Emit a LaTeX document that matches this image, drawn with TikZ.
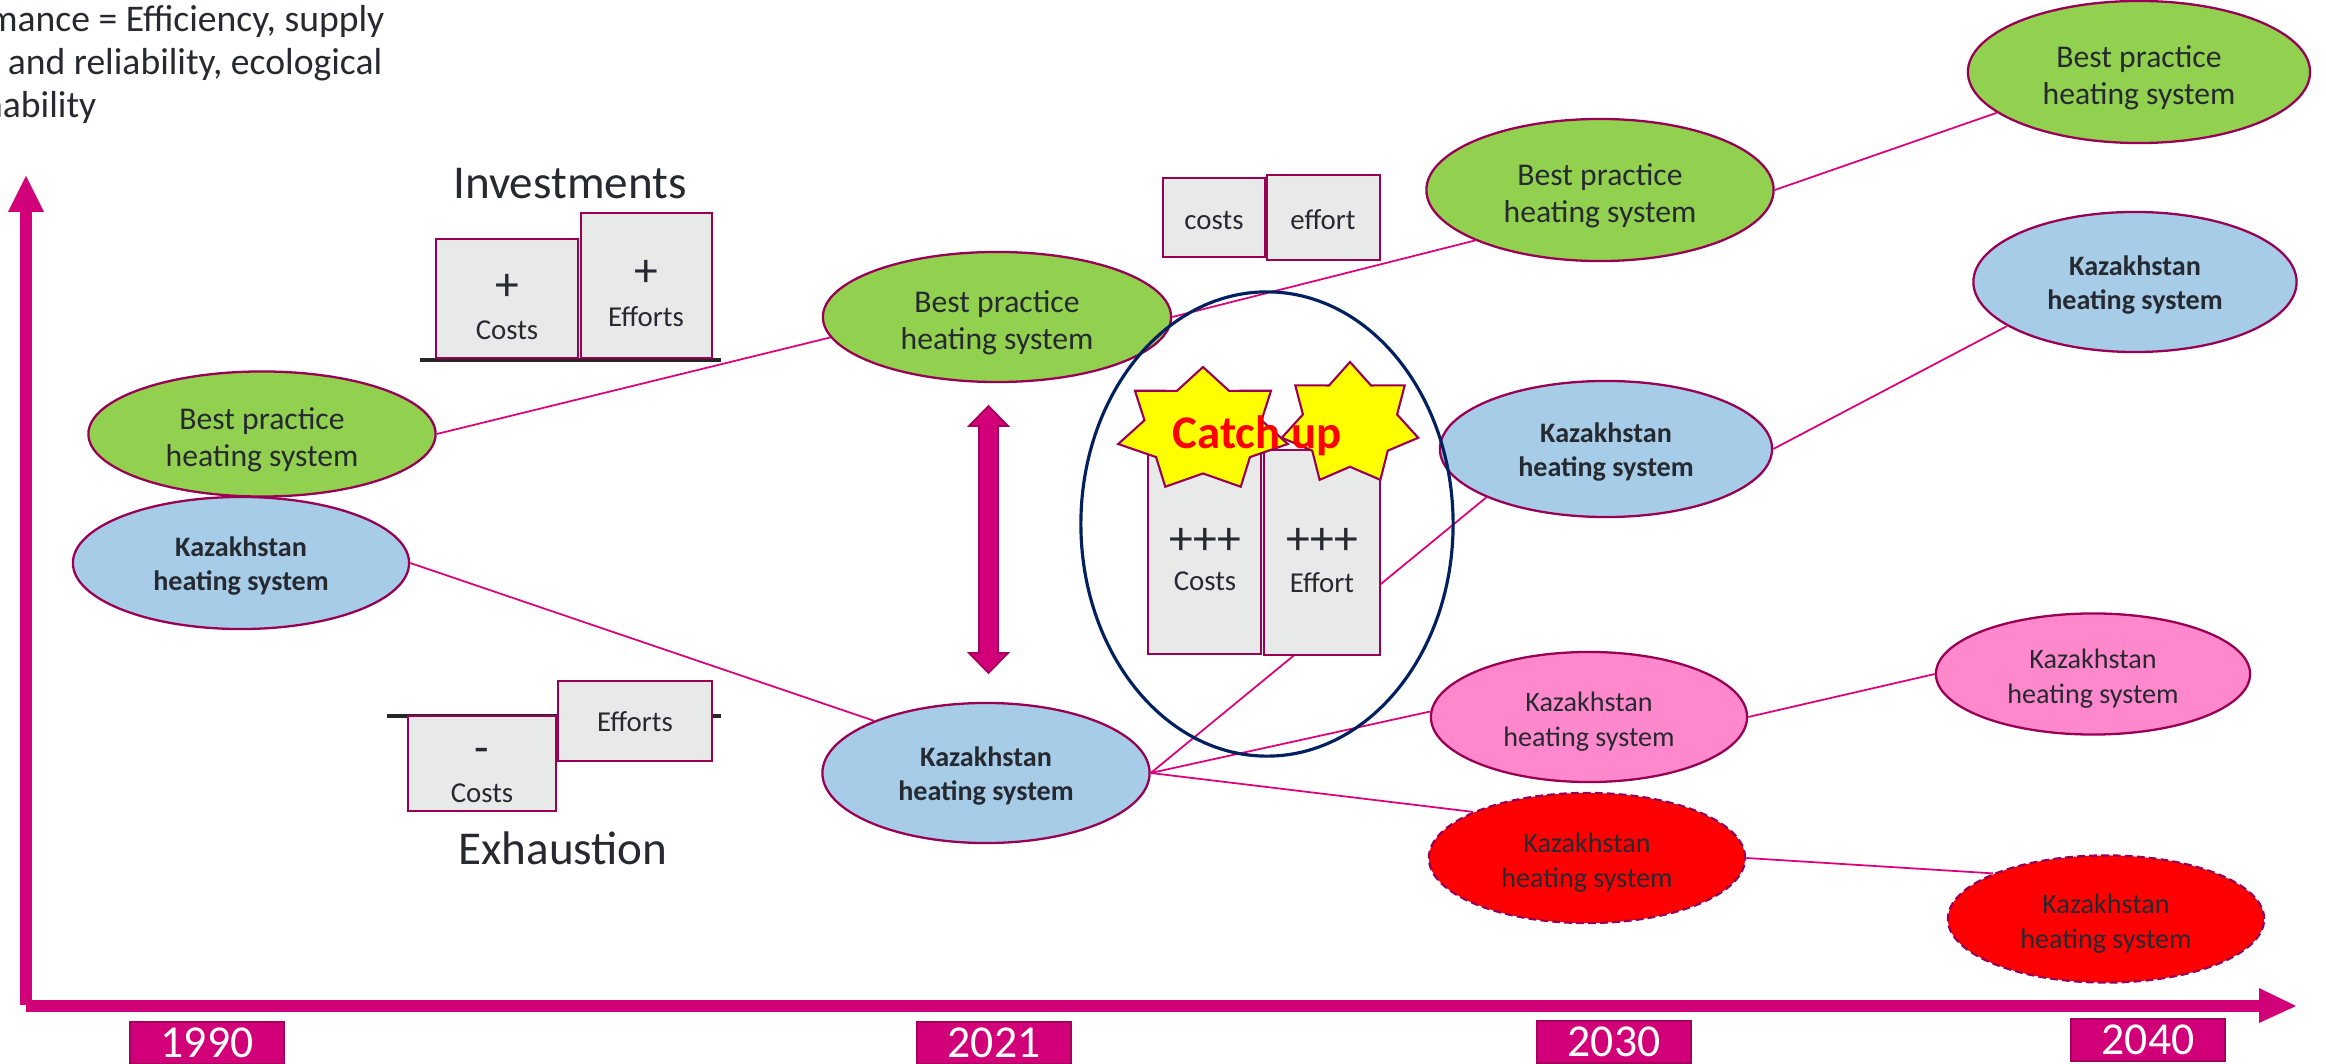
\documentclass[tikz,border=0pt]{standalone}
\usepackage{fontspec}
\setmainfont{Carlito}
\usetikzlibrary{shapes.geometric}
\definecolor{mag}{RGB}{210,0,120}
\definecolor{magdark}{RGB}{165,0,92}
\definecolor{ellline}{RGB}{153,0,85}
\definecolor{boxline}{RGB}{153,0,85}
\definecolor{boxfill}{RGB}{232,233,233}
\definecolor{bpgreen}{RGB}{146,208,80}
\definecolor{kzblue}{RGB}{166,204,232}
\definecolor{kzpink}{RGB}{255,136,204}
\definecolor{kzred}{RGB}{255,0,0}
\definecolor{navyc}{RGB}{0,32,96}
\definecolor{txt}{RGB}{38,42,48}
\definecolor{connc}{RGB}{222,0,122}
\definecolor{gline}{RGB}{38,38,38}
\definecolor{staryel}{RGB}{255,255,0}
\tikzset{
  conn/.style={draw=connc, line width=0.5pt},
  ellbase/.style={ellipse, draw=ellline, line width=0.65pt, inner sep=0pt},
  bplab/.style={align=center, text=txt, inner sep=0pt, font=\fontsize{9}{10.6}\selectfont, yshift=-0.06cm},
  kzlab/.style={align=center, text=txt, inner sep=0pt, font=\bfseries\fontsize{8}{9.9}\selectfont, yshift=-0.03cm},
  thinlab/.style={align=center, text=txt, inner sep=0pt, font=\fontsize{8}{9.9}\selectfont, yshift=-0.045cm},
  bpell/.style={ellbase, fill=bpgreen, label={[bplab]center:{Best practice\\heating system}}},
  kzell/.style={ellbase, fill=kzblue, label={[kzlab]center:{Kazakhstan\\heating system}}},
  pinkell/.style={ellbase, fill=kzpink, label={[thinlab]center:{Kazakhstan\\heating system}}},
  redell/.style={ellbase, fill=kzred, dash pattern=on 2.2pt off 1.2pt, label={[thinlab]center:{Kazakhstan\\heating system}}},
  gbox/.style={rectangle, draw=boxline, fill=boxfill, line width=0.75pt, inner sep=0pt},
  boxtxt/.style={inner sep=0pt, text=txt, font=\fontsize{8.2}{9.8}\selectfont},
  plustxt/.style={inner sep=0pt, text=txt, font=\fontsize{13.5}{14}\selectfont},
  headtxt/.style={inner sep=0pt, text=txt, font=\fontsize{13.4}{16}\selectfont},
  yearbox/.style={rectangle, fill=mag, draw=magdark, line width=0.5pt, text=white, font=\fontsize{13}{15}\selectfont, inner sep=0pt},
  ringsty/.style={ellipse, draw=navyc, line width=0.9pt, inner sep=0pt},
  starsty/.style={draw=ellline, fill=staryel, line width=0.6pt, line join=miter},
  catchtxt/.style={inner sep=0pt, text=red, font=\bfseries\fontsize{13.3}{15}\selectfont},
  axisfill/.style={fill=mag},
  topnote/.style={anchor=base east, inner sep=0pt, text=txt, font=\fontsize{10.7}{12.5}\selectfont},
  groundline/.style={draw=gline, line width=1.2pt},
  dblarrow/.style={fill=mag, draw=magdark, line width=0.5pt},
}
\begin{document}
\begin{tikzpicture}[x=0.01cm, y=-0.01cm]
\useasboundingbox (0,0) rectangle (2326,1064);
\clip (0,0) rectangle (2326,1064);

% top-left note (cut off at left edge)
\node[topnote] (note1) at (385,32) {mance = Efficiency, supply};
\node[topnote] (note2) at (383,75) {y and reliability, ecological};
\node[topnote] (note3) at (97,118) {nability};

% axes
\fill[axisfill] (20,212) rectangle (32,1005);
\fill[axisfill] (8,212) -- (26,176) -- (44,212) -- cycle;
\fill[axisfill] (26,1000) rectangle (2260,1012);
\fill[axisfill] (2259,988) -- (2296,1006) -- (2259,1023) -- cycle;

% year labels
\node[yearbox, minimum width=1.54cm, minimum height=0.42cm] (y1990) at (207,1043) {1990};
\node[yearbox, minimum width=1.54cm, minimum height=0.42cm] (y2021) at (994,1043) {2021};
\node[yearbox, minimum width=1.54cm, minimum height=0.42cm] (y2030) at (1614,1042) {2030};
\node[yearbox, minimum width=1.54cm, minimum height=0.42cm] (y2040) at (2148,1040) {2040};

% ellipses
\node[bpell, minimum width=3.47cm, minimum height=1.25cm] (bp1) at (262,434) {};
\node[kzell, minimum width=3.36cm, minimum height=1.32cm] (kz1) at (241,563) {};
\node[bpell, minimum width=3.48cm, minimum height=1.30cm] (bp2) at (997,317) {};
\node[kzell, minimum width=3.27cm, minimum height=1.40cm] (kz2) at (986,773) {};
\node[bpell, minimum width=3.47cm, minimum height=1.42cm] (bp3) at (1600,190) {};
\node[kzell, minimum width=3.32cm, minimum height=1.36cm] (kz3) at (1606,449) {};
\node[pinkell, minimum width=3.16cm, minimum height=1.30cm] (pink1) at (1589,717) {};
\node[redell, minimum width=3.16cm, minimum height=1.30cm] (red1) at (1587,858) {};
\node[bpell, minimum width=3.42cm, minimum height=1.42cm] (bp4) at (2139,72) {};
\node[kzell, minimum width=3.23cm, minimum height=1.40cm] (kz4) at (2135,282) {};
\node[pinkell, minimum width=3.14cm, minimum height=1.21cm] (pink2) at (2093,674) {};
\node[redell, minimum width=3.16cm, minimum height=1.27cm] (red2) at (2106,919) {};

% connectors
\draw[conn] (bp1.east) -- (bp2.187);
\draw[conn] (bp2.east) -- (bp3.202);
\draw[conn] (bp3.east) -- (bp4.196);
\draw[conn] (kz1.east) -- (kz2.155);
\draw[conn] (kz2.east) -- (kz3.202);
\draw[conn] (kz2.east) -- (pink1.178);
\draw[conn] (kz2.east) -- (red1.158);
\draw[conn] (kz3.east) -- (kz4.199);
\draw[conn] (pink1.east) -- (pink2.west);
\draw[conn] (red1.east) -- (red2.158);

% investments
\node[headtxt] (invest) at (570,184) {Investments};
\draw[groundline] (420,360) -- (721,360);
\node[gbox, minimum width=1.42cm, minimum height=1.19cm] (invcosts) at (507,298.5) {};
\node[gbox, minimum width=1.31cm, minimum height=1.45cm] (invefforts) at (646.5,285.5) {};
\node[plustxt] (invplus1) at (507,287) {+};
\node[boxtxt] (invcoststxt) at (507,330) {Costs};
\node[plustxt] (invplus2) at (646,273) {+};
\node[boxtxt] (inveffortstxt) at (646,317) {Efforts};

% exhaustion
\draw[groundline] (387,716) -- (721,716);
\node[gbox, minimum width=1.48cm, minimum height=0.95cm] (exhcosts) at (482,763.5) {};
\node[gbox, minimum width=1.54cm, minimum height=0.80cm] (exhefforts) at (635,721) {};
\node[plustxt] (exhminus) at (482,756) {-};
\node[boxtxt] (exhcoststxt) at (482,793) {Costs};
\node[boxtxt] (exheffortstxt) at (635,722) {Efforts};
\node[headtxt] (exhaust) at (563,848) {Exhaustion};

% double arrow
\filldraw[dblarrow] (988.5,406) -- (1008,426) -- (998,426) -- (998,653) -- (1008,653) -- (988.5,673) -- (969,653) -- (979,653) -- (979,426) -- (969,426) -- cycle;

% small boxes costs / effort
\node[gbox, minimum width=1.02cm, minimum height=0.79cm] (smcosts) at (1214,217.5) {};
\node[gbox, minimum width=1.13cm, minimum height=0.85cm] (smeffort) at (1323.5,217.5) {};
\node[boxtxt] (smcoststxt) at (1214,220) {costs};
\node[boxtxt] (smefforttxt) at (1323,220) {effort};

% tall boxes
\node[gbox, minimum width=1.13cm, minimum height=2.04cm] (tallcosts) at (1204.5,552) {};
\node[gbox, minimum width=1.16cm, minimum height=2.05cm] (talleffort) at (1322,552.5) {};
\node[plustxt] (tallplus1) at (1205,541) {+++};
\node[boxtxt] (tallcoststxt) at (1205,581) {Costs};
\node[plustxt] (tallplus2) at (1322,541) {+++};
\node[boxtxt] (tallefforttxt) at (1322,583) {Effort};

% stars
\draw[starsty] (1203,367) \foreach \k in {1,...,13} { -- ({1203+87*(1-0.31*mod(\k,2))*cos(90+\k*360/14)}, {430-63*(1-0.31*mod(\k,2))*sin(90+\k*360/14)}) } -- cycle;
\draw[starsty] (1350,362) \foreach \k in {1,...,13} { -- ({1350+70*(1-0.31*mod(\k,2))*cos(90+\k*360/14)}, {424-62*(1-0.31*mod(\k,2))*sin(90+\k*360/14)}) } -- cycle;
\node[catchtxt] (catchup) at (1257,436) {Catch up};

% ring
\node[ringsty, minimum width=3.72cm, minimum height=4.64cm] (ring) at (1267,524) {};
\end{tikzpicture}
\end{document}
